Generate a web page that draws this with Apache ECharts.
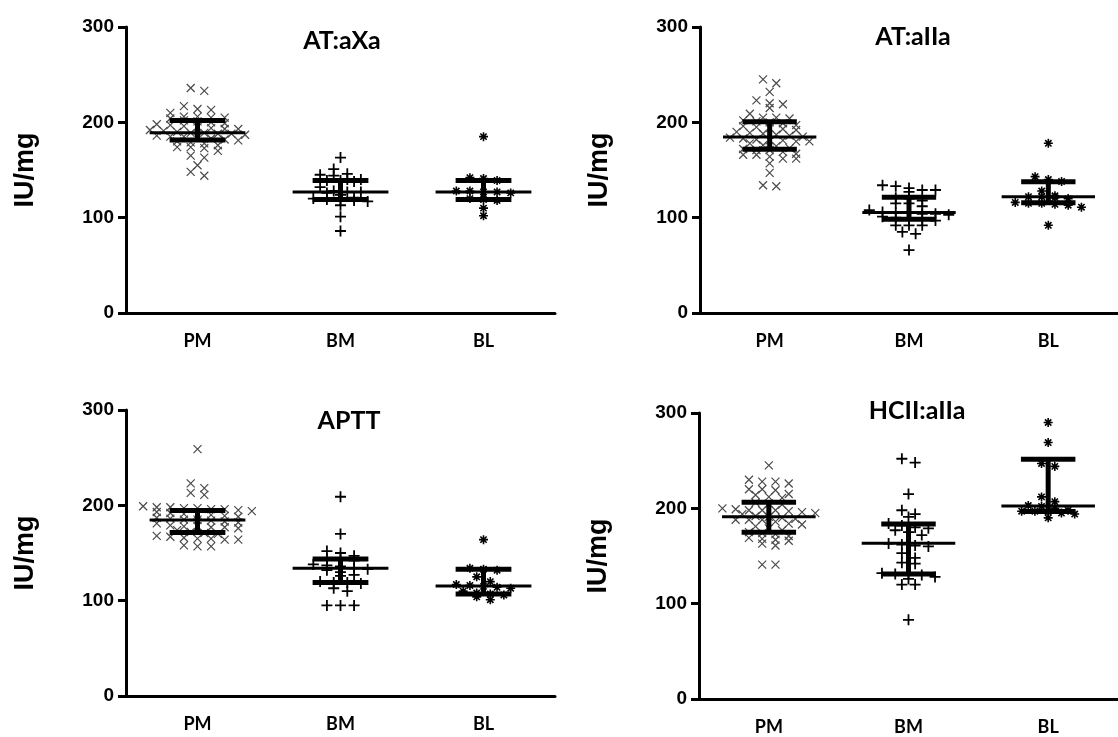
<!DOCTYPE html>
<html>
<head>
<meta charset="utf-8">
<script src="https://cdn.jsdelivr.net/npm/echarts@6/dist/echarts.min.js"></script>
<style>
  html, body { margin: 0; padding: 0; background: #fff; }
  #chart { width: 1118px; height: 737px; }
</style>
</head>
<body>
<div id="chart"></div>
<script>
  // groups on the x axis and the y ticks shared by all panels
  var categories = ['PM', 'BM', 'BL']
  var yTicks = [0, 100, 200, 300]
  var titles = ['AT:aXa', 'AT:aIIa', 'APTT', 'HCII:aIIa']

  // AT:aXa (IU/mg)
  var ataxaPM = [236, 233, 217, 214, 213, 210, 206, 206, 205, 205, 204, 202, 201, 200, 199, 198, 197, 196, 195, 194, 193, 193, 192, 191, 190, 189, 189, 188, 188, 187, 186, 185, 185, 184, 183, 182, 181, 180, 179, 178, 176, 174, 174, 173, 170, 165, 163, 155, 148, 144]
  var ataxaBM = [163, 151, 146, 145, 144, 140, 140, 139, 139, 138, 132, 128, 127, 127, 126, 124, 121, 120, 119, 119, 118, 117, 113, 101, 86]
  var ataxaBL = [185, 142, 141, 139, 128, 128, 127, 127, 126, 120, 119, 118, 110, 102]
  var ataxaMedian = [189, 127, 127]
  var ataxaQ1 = [181.5, 119, 119]
  var ataxaQ3 = [202, 139, 139]

  // AT:aIIa
  var atiiaPM = [245, 241, 232, 223, 220, 219, 215, 209, 205, 205, 204, 202, 201, 200, 199, 197, 196, 195, 194, 193, 192, 190, 189, 188, 187, 186, 185, 184, 183, 182, 181, 181, 180, 180, 178, 176, 175, 173, 172, 171, 171, 169, 167, 166, 166, 164, 162, 162, 157, 147, 134, 133]
  var atiiaBM = [134, 133, 131, 129, 129, 127, 121, 120, 118, 115, 115, 112, 108, 106, 105, 105, 104, 104, 103, 101, 100, 99, 98, 97, 92, 92, 92, 85, 83, 66]
  var atiiaBL = [178, 143, 140, 138, 128, 123, 122, 122, 121, 120, 116, 115, 115, 114, 113, 111, 92]
  var atiiaMedian = [184.5, 105.3, 122]
  var atiiaQ1 = [171.8, 98.3, 115.7]
  var atiiaQ3 = [200.5, 121.4, 137.8]

  // APTT
  var apttPM = [259, 223, 218, 213, 211, 199, 198, 198, 197, 197, 196, 196, 195, 194, 193, 192, 191, 190, 190, 189, 188, 187, 186, 185, 185, 184, 183, 182, 181, 179, 178, 178, 177, 177, 176, 174, 172, 171, 170, 168, 167, 166, 165, 165, 164, 164, 158, 157, 157]
  var apttBM = [209, 170, 152, 150, 147, 144, 143, 142, 138, 137, 136, 134, 133, 132, 130, 127, 126, 120, 119, 119, 118, 113, 110, 95, 95, 95]
  var apttBL = [164, 134, 133, 132, 125, 120, 117, 116, 115, 114, 113, 110, 108, 107, 106, 104, 101]
  var apttMedian = [184.7, 134, 115.4]
  var apttQ1 = [171.4, 119, 107]
  var apttQ3 = [194.5, 143.7, 133]

  // HCII:aIIa
  var hciiPM = [245, 230, 228, 228, 226, 220, 220, 219, 215, 214, 212, 211, 206, 205, 204, 200, 199, 198, 198, 198, 197, 196, 195, 194, 192, 191, 190, 189, 188, 188, 188, 186, 184, 183, 181, 179, 177, 175, 174, 173, 171, 169, 168, 167, 166, 163, 161, 141, 141]
  var hciiBM = [252, 248, 215, 198, 194, 191, 184, 182, 180, 179, 177, 175, 172, 163, 162, 161, 160, 153, 148, 143, 142, 132, 131, 131, 130, 128, 126, 120, 120, 83]
  var hciiBL = [290, 269, 247, 244, 212, 207, 203, 202, 200, 198, 197, 197, 196, 195, 194, 190]
  var hciiMedian = [191.3, 163.4, 202.5]
  var hciiQ1 = [175, 131.2, 196.6]
  var hciiQ3 = [206.4, 183.6, 251.5]

  var panels = [
    { groups: [ataxaPM, ataxaBM, ataxaBL], median: ataxaMedian, q1: ataxaQ1, q3: ataxaQ3 },
    { groups: [atiiaPM, atiiaBM, atiiaBL], median: atiiaMedian, q1: atiiaQ1, q3: atiiaQ3 },
    { groups: [apttPM, apttBM, apttBL], median: apttMedian, q1: apttQ1, q3: apttQ3 },
    { groups: [hciiPM, hciiBM, hciiBL], median: hciiMedian, q1: hciiQ1, q3: hciiQ3 }
  ]

  // layout of the 2x2 figure
  var grids = [
    { left: 126, top: 27, width: 429, height: 286 },
    { left: 700, top: 27, width: 429, height: 286 },
    { left: 126, top: 410, width: 429, height: 286 },
    { left: 699, top: 413, width: 429, height: 286 }
  ]
  var titlePos = [[342, 28], [913, 24], [349, 408], [917, 398]]

  var symbols = [
    { path: 'path://M0,0L10,10M10,0L0,10', size: 8, color: '#4a4a4a', width: 1.2 },
    { path: 'path://M5,0L5,10M0,5L10,5', size: 11, color: '#000', width: 1.8 },
    { path: 'path://M5,0L5,10M0,5L10,5M1.5,1.5L8.5,8.5M8.5,1.5L1.5,8.5', size: 9, color: '#000', width: 1.6 }
  ]

  // beeswarm-like spreading: points whose values fall in the same row sit side by side
  function swarm (values, center) {
    var rowUnits = 6
    var step = 0.095
    var sorted = values.slice().sort(function (a, b) { return b - a })
    var rows = []
    sorted.forEach(function (v) {
      var row = rows[rows.length - 1]
      if (row && row.start - v < rowUnits) {
        row.vals.push(v)
      } else {
        rows.push({ start: v, vals: [v] })
      }
    })
    var out = []
    rows.forEach(function (r) {
      var n = r.vals.length
      r.vals.forEach(function (v, i) {
        out.push([center + (i - (n - 1) / 2) * step, v])
      })
    })
    return out
  }

  function renderBars (params, api) {
    var x = api.value(0)
    var c = api.coord([x, api.value(1)])
    var lo = api.coord([x, api.value(2)])
    var hi = api.coord([x, api.value(3)])
    var mw = api.size([0.335, 0])[0]
    var cw = api.size([0.195, 0])[0]
    var s = { stroke: '#000', lineWidth: 5 }
    return {
      type: 'group',
      children: [
        { type: 'line', shape: { x1: c[0] - mw, y1: c[1], x2: c[0] + mw, y2: c[1] }, style: { stroke: '#000', lineWidth: 3 } },
        { type: 'line', shape: { x1: lo[0], y1: lo[1], x2: hi[0], y2: hi[1] }, style: s },
        { type: 'line', shape: { x1: lo[0] - cw, y1: lo[1], x2: lo[0] + cw, y2: lo[1] }, style: s },
        { type: 'line', shape: { x1: hi[0] - cw, y1: hi[1], x2: hi[0] + cw, y2: hi[1] }, style: s }
      ]
    }
  }

  var option = {
    animation: false,
    backgroundColor: '#fff',
    title: [],
    grid: [],
    xAxis: [],
    yAxis: [],
    series: []
  }

  panels.forEach(function (p, i) {
    option.title.push({
      text: titles[i],
      left: titlePos[i][0],
      top: titlePos[i][1],
      textAlign: 'center',
      padding: 0,
      textStyle: { fontFamily: 'Lato', fontWeight: 'bold', fontSize: 25, color: '#000' }
    })
    option.grid.push(grids[i])
    option.xAxis.push({
      type: 'category',
      gridIndex: i,
      data: categories,
      boundaryGap: true,
      axisLine: { lineStyle: { color: '#000', width: 3 } },
      axisTick: { alignWithLabel: true, length: 6, lineStyle: { color: '#000', width: 3 } },
      axisLabel: { margin: 19, color: '#000', fontFamily: 'Lato', fontWeight: 'bold', fontSize: 18 },
      splitLine: { show: false }
    })
    option.xAxis.push({
      type: 'value',
      gridIndex: i,
      min: 0,
      max: 3,
      show: false
    })
    option.yAxis.push({
      type: 'value',
      gridIndex: i,
      min: yTicks[0],
      max: yTicks[yTicks.length - 1],
      interval: 100,
      name: 'IU/mg',
      nameLocation: 'middle',
      nameGap: 87,
      nameTextStyle: { fontFamily: 'Liberation Sans', fontWeight: 'bold', fontSize: 27, color: '#000' },
      axisLine: { show: true, lineStyle: { color: '#000', width: 3 } },
      axisTick: { show: true, length: 8, lineStyle: { color: '#000', width: 3 } },
      axisLabel: { margin: 12, color: '#000', fontFamily: 'Liberation Sans', fontWeight: 'bold', fontSize: 19 },
      splitLine: { show: false }
    })
    p.groups.forEach(function (vals, g) {
      var sym = symbols[g]
      option.series.push({
        type: 'scatter',
        xAxisIndex: 2 * i + 1,
        yAxisIndex: i,
        symbol: sym.path,
        symbolSize: sym.size,
        itemStyle: { color: 'transparent', borderColor: sym.color, borderWidth: sym.width, opacity: 1 },
        data: swarm(vals, g + 0.5),
        z: 2
      })
    })
    option.series.push({
      type: 'custom',
      xAxisIndex: 2 * i + 1,
      yAxisIndex: i,
      renderItem: renderBars,
      encode: { x: 0, y: [1, 2, 3] },
      data: categories.map(function (c, g) { return [g + 0.5, p.median[g], p.q1[g], p.q3[g]] }),
      z: 3
    })
  })

  var chart = echarts.init(document.getElementById('chart'))
  chart.setOption(option)
  window.addEventListener('resize', function () {
    chart.resize()
  })
</script>
</body>
</html>
